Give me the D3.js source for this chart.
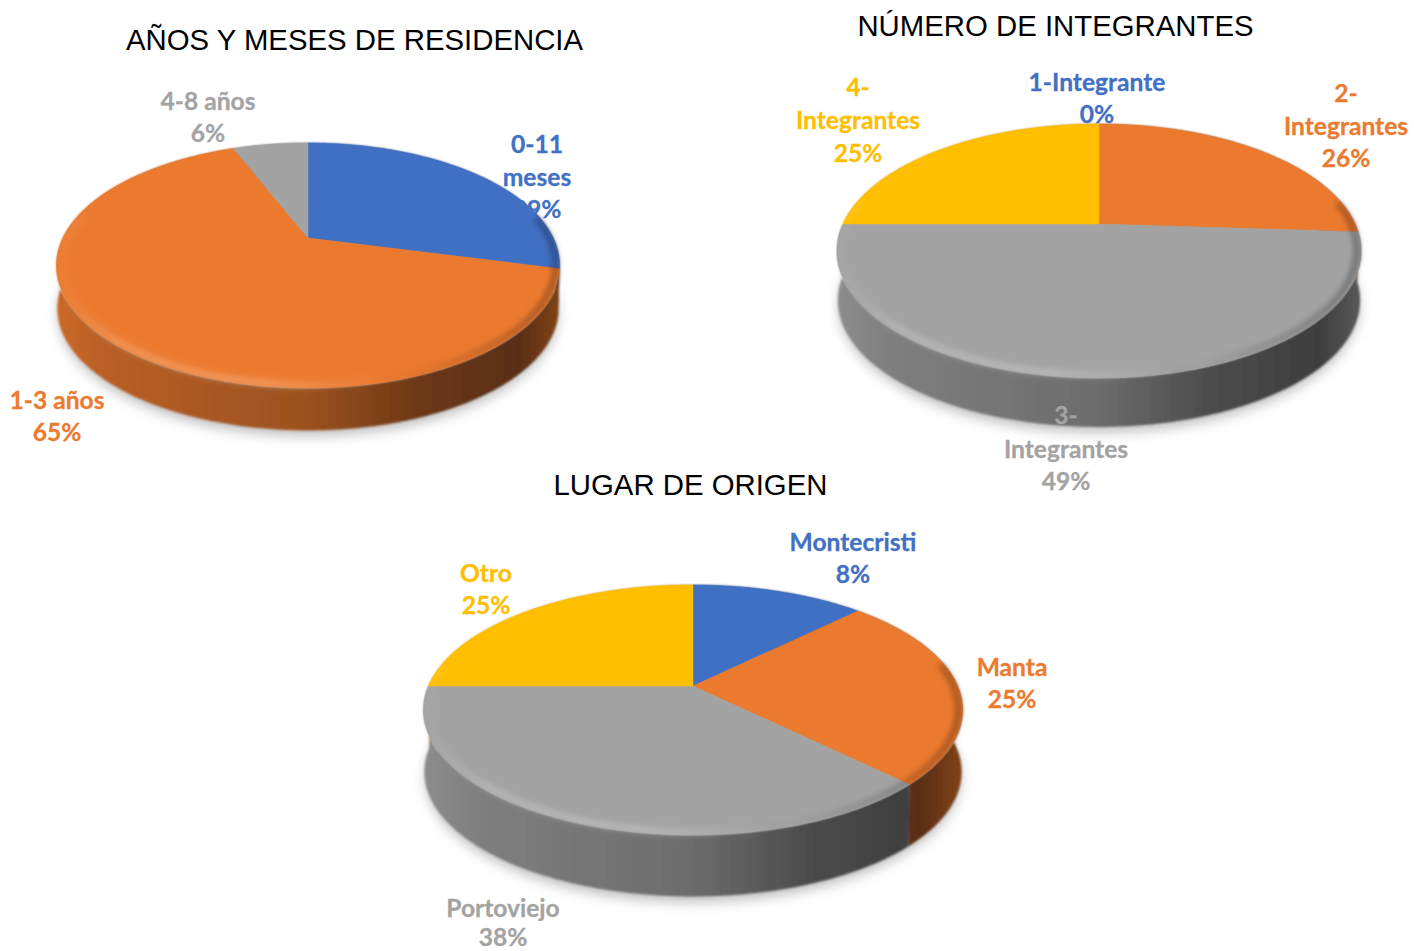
<!DOCTYPE html>
<html><head><meta charset="utf-8">
<script src="https://cdn.jsdelivr.net/npm/d3@7"></script>
<style>html,body{margin:0;padding:0;background:#fff;overflow:hidden}svg{display:block}</style>
</head><body><svg id="c" width="1414" height="951"></svg>
<script>
// ---- data ----
const residenciaCategories = ["0-11 meses", "1-3 años", "4-8 años"];
const residenciaValues = [29, 65, 6];
const residenciaLabels = ["29%", "65%", "6%"];
const integrantesCategories = ["1-Integrante", "2-Integrantes", "3-Integrantes", "4-Integrantes"];
const integrantesValues = [0, 26, 49, 25];
const integrantesLabels = ["0%", "26%", "49%", "25%"];
const origenCategories = ["Montecristi", "Manta", "Portoviejo", "Otro"];
const origenValues = [12.5, 25, 37.5, 25];   // slice sizes as drawn
const origenLabels = ["8%", "25%", "38%", "25%"]; // labels as printed
const titles = ["AÑOS Y MESES DE RESIDENCIA", "NÚMERO DE INTEGRANTES", "LUGAR DE ORIGEN"];
const palette = ["#4170c4", "#ec7a2f", "#a3a3a3", "#ffbe00"];

// ---- layout ----
const pies = [
  {cats: residenciaCategories, vals: residenciaValues, pct: residenciaLabels, colors: [palette[0], palette[1], palette[2]],
   cx: 308, cy: 238, up: 95, down: 150, rx: 251.5, depth: 43, title: titles[0], tx: 354.5, ty: 50,
   lab: [{x:537,y:[152.7,185.7,217.7],t:["0-11","meses"]},{x:57,y:[408.7,440.7]},{x:208,y:[109.7,141.7]}]},
  {cats: integrantesCategories, vals: integrantesValues, pct: integrantesLabels, colors: palette,
   cx: 1099, cy: 224, up: 100, down: 154, rx: 262, depth: 49.5, title: titles[1], tx: 1055.5, ty: 36,
   lab: [{x:1097,y:[90.7,122.7]},{x:1346,y:[101.7,134.7,166.7],t:["2-","Integrantes"]},{x:1066,y:[423.7,457.7,489.7],t:["3-","Integrantes"]},{x:858,y:[95.7,128.7,161.7],t:["4-","Integrantes"]}]},
  {cats: origenCategories, vals: origenValues, pct: origenLabels, colors: palette,
   cx: 693, cy: 686, up: 101, down: 149, rx: 269.5, depth: 62, title: titles[2], tx: 690.5, ty: 495,
   lab: [{x:853,y:[550.7,582.7]},{x:1012,y:[675.7,707.7]},{x:503,y:[916.7,946]},{x:486,y:[581.7,613.7]}]}
];
const labelFont = "Lato, 'Open Sans', sans-serif";
const titleFont = "'Liberation Sans', Arial, sans-serif";
const wallStops = [[0,.86],[.1,.78],[.5,.66],[.72,.46],[.92,.38],[1,.55]];

const svg = d3.select("#c");
const defs = svg.append("defs");
const blur = (id, s) => defs.append("filter").attr("id", id).attr("x","-20%").attr("y","-20%").attr("width","140%").attr("height","140%")
  .append("feGaussianBlur").attr("stdDeviation", s);
blur("soft", 0.6); blur("wallsoft", 1.1); blur("bevel", 3); blur("shadow", 7);

const pieGen = d3.pie().sort(null).value(d => d);
const lineGen = d3.line();

pies.forEach((p, pi) => {
  const k = (p.up - p.down) / (p.up + p.down);
  const a = p.down * (1 + k);
  const b = p.rx * Math.sqrt(1 - k * k);
  const xs = d3.scaleLinear().domain([-1, 1]).range([-b, b]);
  const ys = d3.scaleLinear().domain([-1, 1]).range([-a, a]);
  const proj = (t, r = 1, dy = 0) => {
    const u = Math.sin(t) * r, v = -Math.cos(t) * r, w = 1 + k * v;
    return [p.cx + xs(u) / w, p.cy + ys(v) / w + dy];
  };
  const samples = (t0, t1, r, dy) => {
    const n = Math.max(2, Math.ceil(Math.abs(t1 - t0) / 0.01));
    return d3.range(n + 1).map(i => proj(t0 + (t1 - t0) * i / n, r, dy));
  };
  const arcs = pieGen(p.vals);
  const x0 = p.cx - p.rx, x1 = p.cx + p.rx;

  const g = svg.append("g").attr("filter", "url(#soft)");

  // drop shadow
  g.append("path").attr("d", lineGen(samples(0, 2 * Math.PI, .99, p.depth + 6)) + "Z")
    .attr("fill", "#000").attr("opacity", .28).attr("filter", "url(#shadow)");

  // wall gradients
  const gradFor = (c, i) => {
    const id = `w${pi}_${i}`;
    const lg = defs.append("linearGradient").attr("id", id).attr("gradientUnits", "userSpaceOnUse")
      .attr("x1", x0).attr("x2", x1).attr("y1", 0).attr("y2", 0);
    wallStops.forEach(([o, f]) => {
      const r = d3.rgb(c);
      lg.append("stop").attr("offset", o).attr("stop-color", d3.rgb(r.r * f, r.g * f, r.b * f).formatHex());
    });
    return `url(#${id})`;
  };

  // walls, back slices first so front slices cover them
  const midV = d => -Math.cos((d.startAngle + d.endAngle) / 2);
  const ordered = arcs.filter(d => d.value > 0).sort((m, n) => midV(m) - midV(n));
  const wallG = g.append("g").attr("filter", "url(#wallsoft)");
  wallG.selectAll(null).data(ordered).join("path")
    .attr("d", d => {
      const top = samples(d.startAngle, d.endAngle, 1, 0);
      const bot = samples(d.endAngle, d.startAngle, .997, p.depth);
      return lineGen(top.concat(bot)) + "Z";
    })
    .attr("fill", d => gradFor(p.colors[d.index], d.index));

  // top faces
  g.selectAll(null).data(arcs.filter(d => d.value > 0)).join("path")
    .attr("d", d => lineGen([[p.cx, p.cy]].concat(samples(d.startAngle, d.endAngle, 1, 0))) + "Z")
    .attr("fill", d => p.colors[d.index])
    .attr("stroke", d => p.colors[d.index]).attr("stroke-width", .5);

  // bevel along the front rim
  const bev = defs.append("linearGradient").attr("id", `b${pi}`).attr("gradientUnits", "userSpaceOnUse")
    .attr("x1", x0).attr("x2", x1).attr("y1", 0).attr("y2", 0);
  [[0,"#fff",.02],[.12,"#fff",.28],[.42,"#fff",.32],[.6,"#fff",.06],[.68,"#000",.02],[.85,"#000",.22],[1,"#000",.42]].forEach(([o,c,q]) =>
    bev.append("stop").attr("offset", o).attr("stop-color", c).attr("stop-opacity", q));
  g.append("path").attr("d", lineGen(samples(Math.PI * 1.56, Math.PI * .44, .985, 0)))
    .attr("fill", "none").attr("stroke", `url(#b${pi})`).attr("stroke-width", 5).attr("filter", "url(#bevel)");

  // labels
  p.lab.forEach((l, i) => {
    const lines = (l.t || [p.cats[i]]).concat([p.pct[i]]);
    svg.append("g").selectAll("text").data(lines).join("text")
      .attr("x", l.x).attr("y", (d, j) => l.y[j])
      .attr("text-anchor", "middle").attr("font-family", labelFont).attr("font-weight", 700)
      .attr("font-size", 24.6).attr("stroke", p.colors[i]).attr("stroke-width", .3)
      .attr("fill", p.colors[i]).text(d => d);
  });

  // title
  svg.append("text").attr("x", p.tx).attr("y", p.ty).attr("text-anchor", "middle")
    .attr("font-family", titleFont).attr("font-size", 29.35).attr("fill", "#000").text(p.title);
});
</script></body></html>
